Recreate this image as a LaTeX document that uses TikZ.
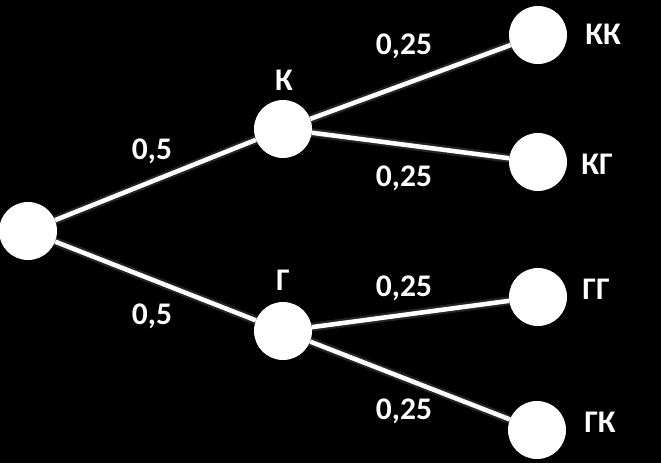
\documentclass[tikz,border=0pt]{standalone}
\usepackage{fontspec}
\setmainfont{Carlito}
\pgfdeclarelayer{bg}
\pgfdeclarelayer{back}
\pgfsetlayers{back,bg,main}
\begin{document}
\begin{tikzpicture}[x=1pt,y=-1pt,
  dot/.style={circle,fill=white,draw=none,minimum size=58pt,inner sep=0pt},
  lbl/.style={text=white,font=\fontsize{31.5}{31.5}\selectfont\bfseries,inner sep=0pt,text height=19.8pt,text depth=0pt,anchor=center},
  edge/.style={white,line width=4.5pt},
  shad/.style={black!60!white,line width=9pt,opacity=0.35},
  shadb/.style={black!70!white,line width=5pt,opacity=0.5}]
\begin{pgfonlayer}{back}
\fill[black] (0,0) rectangle (661,463);
\end{pgfonlayer}
\useasboundingbox (0,0) rectangle (661,463);
% nodes
\node[dot] (r) at (28,231) {};
\node[dot] (k) at (283,129) {};
\node[dot] (g) at (283,331) {};
\node[dot] (kk) at (538,35) {};
\node[dot] (kg) at (538,162) {};
\node[dot] (gg) at (538,297) {};
\node[dot] (gk) at (537,430) {};
\begin{pgfonlayer}{bg}
% shadows
\begin{scope}[yshift=-5pt]
\foreach \a/\b in {r/k,r/g,k/kk,k/kg,g/gg,g/gk}{
  \draw[shad] (\a.center) -- (\b.center);
  \draw[shadb] (\a.center) -- (\b.center);
}
\end{scope}
% edges
\foreach \a/\b in {r/k,r/g,k/kk,k/kg,g/gg,g/gk}{
  \draw[edge] (\a) -- (\b);
}
\end{pgfonlayer}
% labels
\node[lbl] (lk) at (284,81) {К};
\node[lbl] (lg) at (283,281) {Г};
\node[lbl] (p1) at (152,150) {0,5};
\node[lbl] (p2) at (152,315) {0,5};
\node[lbl] (p3) at (404,45) {0,25};
\node[lbl] (p4) at (404,177) {0,25};
\node[lbl] (p5) at (404,287) {0,25};
\node[lbl] (p6) at (404,410) {0,25};
\node[lbl] (tkk) at (603,35) {КК};
\node[lbl] (tkg) at (597,165) {КГ};
\node[lbl] (tgg) at (596,290) {ГГ};
\node[lbl] (tgk) at (600,423) {ГК};
\end{tikzpicture}
\end{document}
